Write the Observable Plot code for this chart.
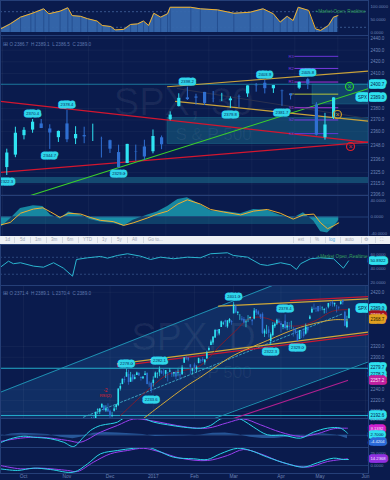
<!DOCTYPE html>
<html>
<head>
<meta charset="utf-8">
<script src="https://cdn.jsdelivr.net/npm/d3@7"></script>
<script src="https://cdn.jsdelivr.net/npm/@observablehq/plot@0.6"></script>
<style>
html, body { margin:0; padding:0; background:#0a1b4d; }
#root { position:relative; width:390px; height:480px; overflow:hidden; background:#0a1b4d; font-family:"Liberation Sans", Arial, sans-serif; }
#toolbar { position:absolute; left:0; top:236px; width:390px; height:8px; background:#eef1f5; color:#9ea6b4; font-size:4.5px; z-index:2; }
#toolbar span { position:absolute; top:1px; line-height:6px; white-space:nowrap; }
#toolbar i { position:absolute; top:1px; width:0; height:6px; border-left:1px solid #d3d8e0; }
</style>
</head>
<body>
<div id="root"><div id="toolbar"></div></div>
<script>
// ================= DATA =================
// Daily S&P 500 bars; trading-day index counted from 2016-10-03 (= 0).
// First row = index 33 (2016-11-17), last row = index 158 (2017-05-19).
const firstIndex = 33;
const dOpen = [
  2178.6,2186.9,2186.4,2201.6,2198.6,2206.3,2210.2,2200.8,2204.3,2200.2,
  2191.1,2200.6,2207.3,2210.7,2241.1,2249.7,2258.8,2263.3,2268.4,2253.8,
  2266.8,2259.2,2266.5,2270.5,2262.9,2260.2,2266.2,2270.2,2250.0,2251.6,
  2251.6,2261.6,2268.2,2271.1,2273.6,2269.0,2268.6,2271.1,2272.7,2269.1,
  2269.1,2271.9,2270.0,2267.8,2267.9,2288.9,2298.6,2299.0,2286.0,2274.0,
  2285.6,2276.7,2288.5,2294.3,2295.9,2289.6,2296.7,2312.3,2321.7,2326.1,
  2335.6,2349.6,2343.0,2354.9,2361.1,2367.5,2355.7,2365.2,2366.1,2380.1,
  2394.8,2380.9,2375.2,2370.7,2369.8,2363.5,2372.5,2371.6,2368.6,2370.3,
  2387.7,2383.7,2378.2,2379.3,2343.0,2346.0,2350.4,2329.1,2339.8,2356.5,
  2361.3,2366.6,2362.3,2354.8,2366.6,2353.8,2356.6,2357.2,2353.9,2352.2,
  2342.0,2332.6,2342.5,2346.8,2342.7,2354.7,2370.3,2381.5,2389.0,2389.7,
  2393.7,2388.5,2391.1,2386.5,2389.8,2392.4,2399.9,2401.6,2396.8,2394.8,
  2392.4,2397.3,2404.6,2383.0,2354.7,2371.4];
const dHigh = [
  2188.1,2189.9,2198.7,2204.8,2204.7,2213.4,2211.1,2210.5,2214.1,2202.6,
  2197.9,2209.4,2212.8,2241.6,2251.7,2259.8,2264.0,2278.0,2276.2,2272.1,
  2268.1,2267.5,2272.6,2271.2,2263.2,2263.8,2273.8,2271.3,2254.5,2253.6,
  2263.9,2272.8,2271.5,2282.1,2275.5,2279.3,2275.3,2271.8,2278.7,2272.1,
  2272.0,2274.3,2277.0,2271.8,2284.6,2299.6,2301.0,2299.0,2286.0,2279.1,
  2289.1,2284.0,2298.3,2296.2,2299.4,2295.9,2311.1,2319.2,2331.6,2337.6,
  2351.3,2351.3,2351.2,2366.7,2365.1,2368.3,2367.3,2371.5,2367.8,2401.0,
  2394.8,2383.9,2378.8,2375.1,2373.1,2369.1,2376.9,2374.4,2368.6,2390.0,
  2388.1,2385.7,2379.6,2381.9,2351.8,2358.9,2356.2,2344.9,2363.8,2363.4,
  2370.4,2370.4,2365.9,2360.5,2378.4,2364.2,2363.8,2366.4,2355.2,2352.7,
  2348.3,2349.1,2348.4,2352.6,2361.4,2356.2,2377.0,2392.5,2398.2,2392.1,
  2393.7,2394.5,2392.9,2389.8,2391.4,2399.3,2401.4,2403.9,2399.7,2395.7,
  2392.4,2402.6,2405.8,2384.9,2375.7,2389.1];
const dLow = [
  2176.7,2180.4,2186.4,2194.5,2194.5,2206.3,2200.4,2198.2,2198.8,2187.4,
  2188.4,2199.0,2202.2,2208.9,2237.6,2249.2,2252.4,2263.3,2248.4,2253.8,
  2254.2,2258.2,2266.2,2265.2,2256.1,2258.8,2266.2,2249.1,2244.6,2233.6,
  2245.1,2261.6,2260.5,2264.1,2268.8,2265.3,2260.8,2254.3,2271.5,2262.8,
  2263.4,2258.4,2265.0,2257.0,2266.7,2288.9,2294.1,2291.6,2268.0,2267.2,
  2272.4,2271.7,2287.9,2288.6,2290.2,2285.4,2296.6,2311.1,2321.4,2322.2,
  2334.8,2338.9,2339.6,2354.9,2358.3,2355.1,2352.9,2361.9,2359.0,2380.1,
  2380.2,2376.9,2368.0,2365.5,2361.0,2354.5,2364.0,2368.5,2358.2,2368.9,
  2377.2,2377.6,2369.7,2341.9,2336.5,2342.1,2335.7,2322.3,2337.6,2352.9,
  2358.6,2362.6,2344.7,2350.7,2350.5,2348.9,2349.6,2351.5,2337.3,2341.2,
  2329.0,2332.5,2334.5,2335.1,2340.9,2344.5,2369.2,2381.2,2386.8,2382.7,
  2382.4,2384.8,2385.8,2379.8,2380.4,2389.4,2393.9,2392.4,2392.8,2381.7,
  2387.2,2396.1,2396.1,2356.2,2352.7,2370.4];
const dClose = [
  2187.1,2181.9,2198.2,2202.9,2204.7,2213.4,2201.7,2204.7,2198.8,2191.1,
  2192.0,2204.7,2212.2,2241.4,2246.2,2259.5,2257.0,2271.7,2253.3,2262.0,
  2258.1,2262.5,2270.8,2265.2,2261.0,2263.8,2268.9,2249.9,2249.3,2238.8,
  2257.8,2270.8,2269.0,2277.0,2268.9,2268.9,2275.3,2270.4,2274.6,2267.9,
  2271.9,2263.7,2271.3,2265.2,2280.1,2298.4,2296.7,2294.7,2280.9,2278.9,
  2279.6,2280.9,2297.4,2292.6,2293.1,2294.7,2307.9,2316.1,2328.3,2337.6,
  2349.3,2347.2,2351.2,2365.4,2362.8,2363.8,2367.3,2369.8,2363.6,2396.0,
  2381.9,2383.1,2375.3,2368.4,2363.0,2364.9,2372.6,2373.5,2365.5,2385.3,
  2381.4,2378.3,2373.5,2344.0,2348.5,2346.0,2344.0,2341.6,2358.6,2361.1,
  2368.1,2362.7,2358.8,2360.2,2353.0,2357.5,2355.5,2357.2,2353.8,2344.9,
  2329.0,2349.0,2342.2,2338.2,2355.8,2348.7,2374.2,2388.6,2387.5,2388.8,
  2384.2,2388.3,2391.2,2388.1,2389.5,2399.3,2399.4,2396.9,2399.6,2394.4,
  2390.9,2402.3,2400.7,2357.0,2365.7,2389.0];

// ---- top chart (30 min, Mar 27 – May 19, x = trading day from Mar 27) ----
const chart1Start = 120;                     // index of 2017-03-27
const ohlc1 = [2386.7, 2389.1, 2386.5, 2389.0];
const weekDays = [0, 5, 10, 14, 19, 24, 29, 34, 39];
const weekLabels = ["27", "Apr", "10", "17", "24", "May", "8", "15", "22"];
const priceTicks1 = [2440, 2430, 2420, 2410, 2380, 2370, 2360, 2348, 2336, 2325, 2315, 2306];
const level1 = 2400.7;

const breadthDay = [-0.2,0.9,2.1,3.3,3.8,4.8,5.4,6.7,7.6,8.1,9.1,9.9,11.0,11.6,12.6,13.1,14.1,14.9,15.7,16.4,17.0,17.6,18.4,19.2,19.5,21.9,23.0,25.0,26.9,28.8,30.3,31.5,32.3,33.1,33.8,34.4,35.6,36.4,37.0,37.9,38.5,39.0];
const breadthVal = [14,33,59,72,78,91,72,82,95,65,62,53,44,27,23,10,12,31,33,44,27,74,59,72,97,97,91,87,74,78,91,72,40,62,46,97,85,14,8,27,59,65];
const breadthTicks = [100, 50, 0];
const breadthLevels = [80, 20];

const oscDay  = [-0.2,0.9,2.1,3.6,4.7,5.6,6.7,7.7,9.1,10.2,11.4,12.9,14.1,15.2,16.9,18.0,19.2,20.4,21.5,23.0,24.2,25.7,27.7,29.2,30.8,32.3,33.8,35.0,36.2,37.0,37.8,38.5,39.1];
const oscLine = [-18.7,-13,9,19,22,12,-1,9,7,-1,-8,-11,-20,-14,-2,7,14,31,41,31,18,12,5,14,18,9,-5,5,7,-14,-28,-21,-14];
const oscHist = [-25,-5,20,27,25,5,-5,12,5,-6,-12,-15,-22,-8,5,12,25,42,46,30,15,14,8,18,16,4,-3,10,-10,-35,-38,-25,-8];
const oscTicks = [40, 0, -40];
const oscBand = [-18, -2];

const redFall1  = [[-0.23, 2386.0], [42.56, 2350.7]];
const redRise1  = [[-0.23, 2324.9], [42.56, 2351.0]];
const green1    = [[3.26, 2305.1], [42.56, 2397.0]];
const yellowUp1 = [[19.19, 2398.5], [42.56, 2412.0]];
const yellowLo1 = [[20.12, 2386.0], [42.56, 2369.0]];
const darkMid1  = [[20.35, 2397.0], [42.44, 2371.3]];
const zoneLow1  = {d1: 19.19, d2: 42.56, p1: 2349.2, p2: 2371.9};
const zoneHigh1 = {d1: 36.05, d2: 42.56, p1: 2383.3, p2: 2400.5};
const band1     = {p1: 2315.4, p2: 2320.6};
const pivotNames = ["R3", "R2", "R1", "P", "S1", "S2", "S3"];
const pivotVals  = [2424.7, 2414.3, 2402.6, 2392.2, 2380.5, 2370.0, 2358.3];
const pivotSpan  = [34.0, 39.1];
const highLabels1 = [[3, 2370.4], [7, 2378.4], [21, 2398.2], [30, 2403.9], [35, 2405.8]];
const lowLabels1  = [[0, 2322.3], [5, 2344.7], [13, 2329.0], [26, 2379.8], [32, 2381.7]];
const signalGreen = [40.35, 2398.8];
const signalGold  = [38.95, 2374.7];
const signalRed   = [40.47, 2347.2];

// ---- bottom chart (daily, x = trading-day index from 2016-10-03) ----
const ohlc2 = [2371.4, 2389.1, 2370.4, 2389.0];
const monthIdx = [0, 21, 42, 63, 83, 102, 125, 144, 166];
const monthLabels = ["Oct", "Nov", "Dec", "2017", "Feb", "Mar", "Apr", "May", "Jun"];
const priceTicks2 = [2420, 2320, 2300, 2240, 2220, 2200];

const breadth2Idx = [-11.2,-7.3,-4.9,-1.5,4.9,9.7,14.6,19.4,23.8,25.7,31.1,37.4,40.8,45.6,50.5,56.8,61.7,66.5,72.8,79.6,85.9,90.8,99.0,101.9,108.7,115.0,118.4,124.8,129.6,132.5,134.5,139.3,144.2,150.5,155.3,157.8];
const breadth2Val = [42.0,50.5,46.9,48.3,43.5,42.0,48.3,40.6,29.3,52.9,55.3,57.2,54.8,58.6,61.0,57.6,52.9,56.2,53.9,56.2,55.3,61.0,62.4,58.6,56.2,45.9,44.5,48.3,45.4,38.8,46.9,53.9,55.3,53.9,40.6,50.8922];
const breadth2Ticks = [60, 40, 20];
const breadth2Levels = [56, 32];

const channelUp2  = [[-11.17, 2235.5], [120.9, 2432.4]];
const channelLo2  = [[92.2, 2186.4], [167.0, 2290.9]];
const channelMid2 = [[29.1, 2189.4], [155.3, 2380.7]];
const channelFill2 = [{i: -11.17, lo: 2042.0, hi: 2235.5}, {i: 167.48, lo: 2291.6, hi: 2501.8}];
const magenta2    = [[101.9, 2187.0], [157.3, 2257.2]];
const redTop2     = [[129.6, 2404.6], [167.48, 2412.1]];
const yellowTop2  = [[94.7, 2394.2], [167.48, 2407.9]];
const yellowBot2  = [[45.6, 2287.9], [167.48, 2346.4]];
const redBot2     = [[45.6, 2283.8], [167.48, 2342.2]];
const levels2     = [2279.7, 2192.6];
const level2b     = 2278.2;
const ma50 = [[58.3,2187],[66.5,2211],[79.6,2247.9],[85.9,2263.2],[94.2,2284.8],[101.9,2303.2],[118.4,2330.9],[134.5,2355.4],[150.5,2369.1],[157.3,2368.7]];
const ma20 = [[47,2192],[62,2245],[70,2268],[86,2285],[95,2320],[102,2345],[110,2372],[118,2372],[126,2360],[134,2358],[142,2368],[150,2385],[157.3,2388]];
const highLabels2 = [[50, 2278.0], [66, 2282.1], [102, 2401.0], [127, 2378.4]];
const lowLabels2  = [[62, 2233.6], [120, 2322.3], [133, 2329.0]];
const rsiMark2 = [39.8, 2238.6];

const macdIdx = [-11.2,-6.3,0,4.9,13.1,19.4,24.3,29.1,32.5,37.4,42.2,45.6,48.5,53.4,58.3,63.1,69.9,77.7,85.9,90.8,95.6,101.9,106.8,111.7,118.4,126.2,134.5,140.8,147.6,153.9,157.3];
const macdVal = [-9.7,-4.5,-1.2,-2.5,-4.5,-8.9,-14.5,-2.5,6.2,12.7,14.9,17,22,26,22,17,13.6,10.5,9.2,12.7,21,24,19,10.5,0.6,0,-3.7,4,9.2,9.2,2.7];
const signalIdx = [-11.2,-1.5,8.3,21.4,27.7,37.4,45.6,53.4,61.7,69.9,79.6,89.3,99.0,106.8,115.0,124.8,134.5,142.7,150.5,157.3];
const signalVal = [-8,-3.7,-2.5,-6.7,-8.9,4,12.7,21,19,14.9,10.5,9.2,16.2,21,13.6,4,-1.5,2,8.4,9.1392];
const histIdx = [-11,-6,-1,5,12,18,24,29,34,40,46,52,58,64,70,78,86,92,98,104,110,116,122,128,134,140,146,152,157.3];
const histVal = [-1,1.5,2.5,2,1,-2.5,-4.5,-2,2.5,3.5,3,2,1,-1.5,-1,-0.5,0.5,2.5,3,1,-2.5,-4,-4,-2.5,-1.5,1.5,1.5,0.5,-4.4204];
const macdTicks = [20];

const stochIdx = [-11.2,-2.9,4.9,13.1,24.3,31.1,37.4,45.6,53.4,60.2,65.0,72.8,82.5,89.3,95.6,103.9,110.2,118.4,128.2,135.9,142.7,150.5,155.3,157.8];
const stochVal = [-7.1,-10.5,-5.6,-8.5,-14.1,3.5,24.9,31.9,36.6,39.0,31.9,17.7,14.3,12.8,24.9,36.6,31.9,17.7,3.5,-3.5,5.8,15.6,12.8,12.8];
const stochSigIdx = [-11.2,-1.5,8.3,21.4,26.2,34.0,42.2,50.5,58.3,66.5,76.2,89.3,99.0,106.8,115.0,126.2,137.9,147.6,157.3];
const stochSigVal = [0,-7.1,-5.6,-10.5,-12.8,7.1,24.9,31.9,36.6,28.4,15.6,10.6,21.3,34.0,24.9,5.8,-3.5,8.5,14.2368];
const stochTicks = [25, 0];

// ================= DRAWING =================
const BG = "#0a1b4d", AX = "#6d84b6", UP = "#2fe3f2", DOWN = "#2f6fd2", LBL = "#2fd5ea";
const FONT = '"Liberation Sans", Arial, sans-serif';
const root = document.getElementById("root");
const xd1 = [-0.23, 42.56];
const xd2 = [-11.17, 167.48];

function panel(top, height, xDomain, yDomain, marks, mb = 0) {
  const svg = Plot.plot({
    width: 390, height, marginLeft: 0, marginRight: 22, marginTop: 0, marginBottom: mb,
    x: {domain: xDomain, axis: null},
    y: {domain: yDomain, axis: null},
    style: {background: "transparent", color: AX, fontFamily: FONT, fontSize: "5px", overflow: "visible"},
    marks
  });
  svg.style.position = "absolute"; svg.style.left = "0px"; svg.style.top = top + "px";
  root.appendChild(svg);
}
const frame = () => Plot.frame({stroke: "#253f78", strokeWidth: 1});
const fmtv = (fmt) => d => d3.format(fmt)(d).replace("−", "-");
const axisText = (ticks, fmt, size = 4.5) => Plot.text(ticks, {y: d => d, text: fmtv(fmt), frameAnchor: "right", dx: 2, textAnchor: "start", fill: AX, fontSize: size});
const valueBox = (v, fmt, bgc, fg, dy = 0, size = 4.5) => Plot.text([v], {y: d => d, text: fmtv(fmt), frameAnchor: "right", dx: 2, dy, textAnchor: "start", fill: fg, stroke: bgc, strokeWidth: 5.5, fontSize: size});
const seg = pts => pts.map(([x, y]) => ({x, y}));
const tline = (pts, stroke, extra = {}) => Plot.line(seg(pts), {x: "x", y: "y", stroke, strokeWidth: 1, clip: true, ...extra});
const zip = (a, b) => a.map((x, k) => ({x, y: b[k]}));
const note = (txt, dx, dy, fill, size, extra = {}) => Plot.text([txt], {text: d => d, frameAnchor: "top-left", dx, dy, textAnchor: "start", lineAnchor: "middle", fill, fontSize: size, ...extra});

const bars = dOpen.map((o, k) => ({i: firstIndex + k, o, h: dHigh[k], l: dLow[k], c: dClose[k]}));
const bars1 = bars.filter(b => b.i >= chart1Start).map(b => ({...b, d: b.i - chart1Start + 0.5}));
const candles = (data, x, wick, body) => [
  Plot.ruleX(data.filter(b => b.c >= b.o), {x, y1: "l", y2: "h", stroke: UP, strokeWidth: wick, clip: true}),
  Plot.ruleX(data.filter(b => b.c < b.o), {x, y1: "l", y2: "h", stroke: DOWN, strokeWidth: wick, clip: true}),
  Plot.ruleX(data.filter(b => b.c >= b.o), {x, y1: "o", y2: "c", stroke: UP, strokeWidth: body, clip: true}),
  Plot.ruleX(data.filter(b => b.c < b.o), {x, y1: "o", y2: "c", stroke: DOWN, strokeWidth: body, clip: true})
];
const priceLabels = (data, x0, dy) => Plot.text(data, {x: d => d[0] + x0, y: d => d[1], text: d => d[1].toFixed(1), dy, fill: "#0b2a5a", stroke: LBL, strokeWidth: 5, fontSize: 4.2});
const ohlcText = v => `O ${v[0].toFixed(1)}  H ${v[1].toFixed(1)}  L ${v[2].toFixed(1)}  C ${v[3].toFixed(1)}`;
const pivotColors = ["#6a35d8", "#7a3ae0", "#a834d8", "#b7c43a", "#a834d8", "#7a3ae0", "#5f3ad8"];

// ---- Panel A: breadth histogram ----
const breadth = zip(breadthDay, breadthVal);
panel(0, 35, xd1, [-11.5, 123], [
  Plot.ruleY(breadthLevels, {stroke: "#4b6ea8", strokeDasharray: "2,2", strokeWidth: 0.7}),
  Plot.areaY(breadth, {x: "x", y: "y", fill: "#3668ad", fillOpacity: 0.95, clip: true}),
  Plot.ruleX(breadth, {x: "x", y1: 0, y2: "y", stroke: "#163a78", strokeOpacity: 0.7, strokeWidth: 0.7, clip: true}),
  Plot.lineY(breadth, {x: "x", y: "y", stroke: "#f2b02a", strokeWidth: 1, clip: true}),
  Plot.text(["• Market Open, Realtime"], {text: d => d, frameAnchor: "top-right", dx: -3, dy: 9, textAnchor: "end", fill: "#2f9a55", fontSize: 4.6}),
  axisText(breadthTicks, ".4f", 4.2),
  frame()
]);

// ---- Panel B: SPX 30-minute ----
panel(35, 160, xd1, [2305.1, 2442.6], [
  Plot.gridX(weekDays, {stroke: "#ffffff", strokeOpacity: 0.04}),
  Plot.gridY(priceTicks1, {stroke: "#ffffff", strokeOpacity: 0.04}),
  Plot.rect([band1], {x1: xd1[0], x2: xd1[1], y1: "p1", y2: "p2", fill: "#1d7a96", fillOpacity: 0.5}),
  Plot.rect([zoneLow1, zoneHigh1], {x1: "d1", x2: "d2", y1: "p1", y2: "p2", fill: "#1d7a96", fillOpacity: 0.42, stroke: "#1d7a96", strokeOpacity: 0.6, strokeWidth: 0.6, clip: true}),
  Plot.ruleY([level1], {stroke: "#1f8fb0", strokeWidth: 0.8}),
  note("SPX, 30", 183, 67, "#ffffff", 38, {textAnchor: "middle", fillOpacity: 0.06}),
  note("S & P 500", 213, 99, "#ffffff", 17, {textAnchor: "middle", fillOpacity: 0.06}),
  tline(redFall1, "#d3162f", {strokeWidth: 1.2}),
  tline(redRise1, "#d3162f", {strokeWidth: 1.2}),
  tline(green1, "#3ccf2a", {strokeWidth: 1.1}),
  tline(darkMid1, "#2a3150", {strokeWidth: 1}),
  tline(yellowUp1, "#c9a23a", {strokeWidth: 1.1}),
  tline(yellowLo1, "#c9a23a", {strokeWidth: 1.1}),
  ...pivotVals.map((v, k) => Plot.ruleY([v], {x1: pivotSpan[0], x2: pivotSpan[1], stroke: pivotColors[k], strokeWidth: 1})),
  ...pivotVals.map((v, k) => Plot.text([v], {x: pivotSpan[0], y: d => d, text: () => pivotNames[k], dx: -1, textAnchor: "end", fill: pivotColors[k], fontSize: 4.2})),
  ...candles(bars1, "d", 1, 3.2),
  priceLabels(highLabels1, 0.5, -6),
  priceLabels(lowLabels1, 0.5, 6),
  ...[[signalGreen, "#2ccf2c"], [signalGold, "#c89a2a"], [signalRed, "#e0202a"]].flatMap(([p, c]) => [
    Plot.dot([p], {x: d => d[0], y: d => d[1], r: 4, stroke: c, strokeWidth: 1.2, fill: "none"}),
    Plot.text([p], {x: d => d[0], y: d => d[1], text: () => "×", fill: c, fontSize: 7})
  ]),
  axisText(priceTicks1, ".1f"),
  valueBox(level1, ".1f", "#2fe0f0", "#06204a"),
  valueBox(ohlc1[3], ".1f", "#2fe0f0", "#06204a"),
  Plot.text([ohlc1[3]], {y: d => d, text: () => "SPX", frameAnchor: "right", dx: -6, textAnchor: "middle", fill: "#06204a", stroke: "#2fe0f0", strokeWidth: 5.5, fontSize: 4.5}),
  note("⊞", 2, 9, "#5f78ad", 6),
  note(ohlcText(ohlc1), 9, 9, "#5f78ad", 4.6),
  frame()
]);

// ---- Panel C: oscillator + week axis ----
panel(195, 41, xd1, [-46.5, 51.3], [
  Plot.gridX(weekDays, {stroke: "#ffffff", strokeOpacity: 0.04}),
  Plot.rect([oscBand], {x1: xd1[0], x2: oscDay[oscDay.length - 1], y1: d => d[0], y2: d => d[1], fill: "#1a8aa0", fillOpacity: 0.35}),
  Plot.areaY(zip(oscDay, oscHist), {x: "x", y: "y", fill: "#1aa3b6", fillOpacity: 0.8, clip: true}),
  Plot.ruleY([0], {stroke: "#2b4f86", strokeWidth: 0.7}),
  Plot.lineY(zip(oscDay, oscLine), {x: "x", y: "y", stroke: "#f0b030", strokeWidth: 1, clip: true}),
  axisText(oscTicks, ".4f", 4.2),
  Plot.text(weekDays, {x: d => d, text: d => weekLabels[weekDays.indexOf(d)], textAnchor: d => d === 0 ? "start" : "middle", frameAnchor: "bottom", dy: 3.5, fill: AX, fontSize: 4.6}),
  frame()
]);

// ---- Toolbar (HTML) ----
const tb = document.getElementById("toolbar");
const tbItems = [["1d",5],["5d",20],["1m",35],["3m",51],["6m",67],["YTD",83],["1y",102],["5y",117],["All",132],["Go to...",148],
                 ["ext",298],["%",315],["log",329],["auto",345],["⚙",364],["⛶",380]];
tbItems.forEach(([t, x]) => { const s = document.createElement("span"); s.textContent = t; s.style.left = x + "px"; if (t === "log") s.style.color = "#4fa6e0"; tb.appendChild(s); });
[14,30,46,62,78,97,111,127,143,293,310,325,340,361,375].forEach(x => { const s = document.createElement("i"); s.style.left = x + "px"; tb.appendChild(s); });

// ---- Panel F: breadth line (daily) ----
panel(244, 41, xd2, [16.1, 74.1], [
  Plot.ruleY(breadth2Levels, {stroke: "#3a5a90", strokeDasharray: "2,2", strokeWidth: 0.7}),
  Plot.lineY(zip(breadth2Idx, breadth2Val), {x: "x", y: "y", stroke: "#2ab5cf", strokeWidth: 1, clip: true}),
  Plot.text(["• Market Open, Realtime"], {text: d => d, frameAnchor: "top-right", dx: -1, dy: 10, textAnchor: "end", fill: "#2f9a55", fontSize: 4.6}),
  axisText(breadth2Ticks, ".4f", 4.2),
  valueBox(breadth2Val[breadth2Val.length - 1], ".4f", "#2fe0f0", "#06204a", 0, 4.2),
  frame()
]);

// ---- Panel G: SPX daily ----
panel(285, 133, xd2, [2187, 2432.4], [
  Plot.areaY(channelFill2, {x: "i", y1: "lo", y2: "hi", fill: "#1a4a86", fillOpacity: 0.4, clip: true}),
  Plot.gridY(priceTicks2, {stroke: "#ffffff", strokeOpacity: 0.04}),
  Plot.gridX(monthIdx, {stroke: "#ffffff", strokeOpacity: 0.04}),
  note("SPX, D", 193, 52, "#ffffff", 38, {textAnchor: "middle", fillOpacity: 0.06}),
  note("S & P 500", 213, 87, "#ffffff", 17, {textAnchor: "middle", fillOpacity: 0.06}),
  Plot.ruleY(levels2, {stroke: "#26bcd8", strokeWidth: 0.9}),
  tline(channelUp2, "#1e8fb0"),
  tline(channelLo2, "#1e8fb0"),
  tline(channelMid2, "#3aa0c0", {strokeDasharray: "2,2"}),
  tline(magenta2, "#b0208f", {strokeWidth: 1.2}),
  tline(redTop2, "#c81830", {strokeWidth: 1.2}),
  tline(yellowTop2, "#d0a838", {strokeWidth: 1.2}),
  tline(redBot2, "#c81830", {strokeWidth: 1.2}),
  tline(yellowBot2, "#d0a838", {strokeWidth: 1.2}),
  tline(ma50, "#d2a83a", {strokeWidth: 1, curve: "catmull-rom"}),
  tline(ma20, "#8a1828", {strokeWidth: 0.9, curve: "catmull-rom"}),
  ...candles(bars, "i", 0.7, 1.6),
  priceLabels(highLabels2, 0, -6),
  priceLabels(lowLabels2, 0, 6),
  Plot.text([rsiMark2], {x: d => d[0], y: d => d[1], text: () => "-2", fill: "#e0202a", fontSize: 4.5}),
  Plot.text([rsiMark2], {x: d => d[0], y: d => d[1], text: () => "RSI(2)", dy: 5, fill: "#e0202a", fontSize: 4}),
  axisText(priceTicks2, ".1f"),
  valueBox(ohlc2[3], ".1f", "#2fe0f0", "#06204a"),
  Plot.text([ohlc2[3]], {y: d => d, text: () => "SPX", frameAnchor: "right", dx: -6, textAnchor: "middle", fill: "#06204a", stroke: "#2fe0f0", strokeWidth: 5.5, fontSize: 4.5}),
  valueBox(ma20[ma20.length - 1][1], ".1f", "#a01020", "#f0d0d0", 6),
  valueBox(ma50[ma50.length - 1][1], ".1f", "#e0a020", "#2a1a00"),
  valueBox(levels2[0], ".1f", "#2fe0f0", "#06204a", -1),
  valueBox(level2b, ".1f", "#2fe0f0", "#06204a", 5),
  valueBox(magenta2[1][1], ".1f", "#c020a0", "#f8e0f8"),
  valueBox(levels2[1], ".1f", "#2fe0f0", "#06204a"),
  note("⊞", 2, 8, "#5f78ad", 6),
  note(ohlcText(ohlc2), 9, 8, "#5f78ad", 4.6),
  frame()
]);

// ---- Panel H: MACD ----
panel(418, 29, xd2, [-15.8, 21.7], [
  Plot.ruleY([0], {stroke: "#2b4f86", strokeWidth: 0.6}),
  Plot.areaY(zip(histIdx, histVal), {x: "x", y: "y", fill: "#2d64aa", fillOpacity: 0.8, clip: true}),
  Plot.lineY(zip(signalIdx, signalVal), {x: "x", y: "y", stroke: "#9a3ff0", strokeWidth: 1, curve: "catmull-rom", clip: true}),
  Plot.lineY(zip(macdIdx, macdVal), {x: "x", y: "y", stroke: "#2ad6e8", strokeWidth: 1, curve: "catmull-rom", clip: true}),
  axisText(macdTicks, ".4f", 4.2),
  valueBox(signalVal[signalVal.length - 1], ".4f", "#d020d0", "#fbe6fb", 0, 4.2),
  valueBox(macdVal[macdVal.length - 1], ".4f", "#2fe0f0", "#06204a", 1.5, 4.2),
  valueBox(histVal[histVal.length - 1], ".4f", "#2a6ad8", "#e6f0ff", 2.5, 4.2),
  frame()
]);

// ---- Panel I: stochastic + month axis ----
panel(447, 33, xd2, [-17.0, 38.3], [
  Plot.ruleY([0], {stroke: "#2b4f86", strokeWidth: 0.6}),
  Plot.lineY(zip(stochSigIdx, stochSigVal), {x: "x", y: "y", stroke: "#9a3ff0", strokeWidth: 1, curve: "catmull-rom", clip: true}),
  Plot.lineY(zip(stochIdx, stochVal), {x: "x", y: "y", stroke: "#2ad6e8", strokeWidth: 1, curve: "catmull-rom", clip: true}),
  axisText(stochTicks, ".4f", 4.2),
  valueBox(stochSigVal[stochSigVal.length - 1], ".4f", "#9030e0", "#f0e6ff", 0, 4.2),
  Plot.text(monthIdx, {x: d => d, text: d => monthLabels[monthIdx.indexOf(d)], frameAnchor: "bottom", dy: 4, fill: AX, fontSize: 4.8}),
  frame()
], 7);
</script>
</body>
</html>
